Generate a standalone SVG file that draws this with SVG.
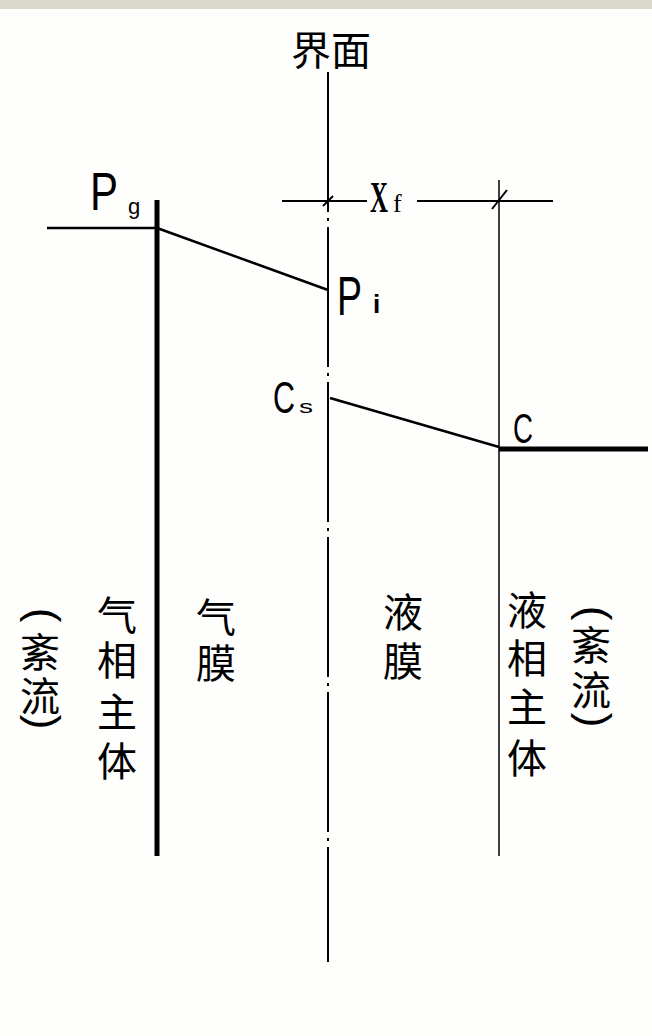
<svg xmlns="http://www.w3.org/2000/svg" width="652" height="1036" viewBox="0 0 652 1036">
<style>
.cjk{font-family:"Noto Sans CJK SC","Noto Sans CJK JP",sans-serif;font-size:40px;fill:#000;text-anchor:middle}
.par{font-family:"Liberation Sans",Arial,sans-serif;font-size:44px;fill:#000;text-anchor:middle}
.lat{font-family:"Liberation Sans",Arial,sans-serif;fill:#000}
.ln{stroke:#000;fill:none}
</style>
<rect x="0" y="0" width="652" height="1036" fill="#fefefc"/>
<rect x="0" y="0" width="652" height="9" fill="#d9d9c9"/>
<g id="connectors">
<line class="ln" x1="328" y1="72" x2="328" y2="962" stroke-width="2" stroke-dasharray="140 6 3 6"/>
<line class="ln" x1="157" y1="200" x2="157" y2="856" stroke-width="5"/>
<line class="ln" x1="499" y1="180" x2="499" y2="856" stroke-width="1.5"/>
<line class="ln" x1="47" y1="228" x2="157" y2="228" stroke-width="2.5"/>
<line class="ln" x1="157" y1="228" x2="328" y2="290" stroke-width="2.5"/>
<line class="ln" x1="330" y1="398" x2="499" y2="447" stroke-width="2.5"/>
<line class="ln" x1="499" y1="449" x2="648" y2="449" stroke-width="5"/>
<line class="ln" x1="282" y1="201" x2="367" y2="201" stroke-width="2"/>
<line class="ln" x1="417" y1="201" x2="553" y2="201" stroke-width="2"/>
<line class="ln" x1="323" y1="206" x2="333" y2="196" stroke-width="2"/>
<line class="ln" x1="492" y1="209" x2="507" y2="190" stroke-width="2"/>
</g>
<g id="title"><text class="cjk" x="331" y="65" font-size="38">界面</text></g>
<g id="Pg"><text class="lat" x="90" y="210" font-size="53" textLength="28" lengthAdjust="spacingAndGlyphs">P</text><text class="lat" x="128" y="214" font-size="22">g</text></g>
<g id="Pi"><text class="lat" x="337" y="315" font-size="56" textLength="25" lengthAdjust="spacingAndGlyphs">P</text><text class="lat" x="373" y="313" font-size="26" font-weight="bold">i</text></g>
<g id="Cs"><text class="lat" x="273" y="413" font-size="45" textLength="22" lengthAdjust="spacingAndGlyphs">C</text><text class="lat" x="299" y="413" font-size="18" textLength="14" lengthAdjust="spacingAndGlyphs">s</text></g>
<g id="C"><text class="lat" x="513" y="443" font-size="43" textLength="20" lengthAdjust="spacingAndGlyphs">C</text></g>
<g id="Xf"><text x="370" y="212" font-family="Liberation Serif,serif" font-size="44" font-weight="bold" textLength="18" lengthAdjust="spacingAndGlyphs">X</text><text x="393" y="212" font-family="Liberation Serif,serif" font-size="26">f</text></g>
<g id="left-turb">
<text class="par" transform="translate(29,615) rotate(90)">(</text>
<text class="cjk" x="40" y="667">紊</text>
<text class="cjk" x="40" y="711">流</text>
<text class="par" transform="translate(29,722) rotate(90)">)</text>
</g>
<g id="gas-bulk">
<text class="cjk" x="117" y="630">气</text>
<text class="cjk" x="117" y="675">相</text>
<text class="cjk" x="117" y="727">主</text>
<text class="cjk" x="117" y="776">体</text>
</g>
<g id="gas-film">
<text class="cjk" x="216" y="632">气</text>
<text class="cjk" x="216" y="678">膜</text>
</g>
<g id="liquid-film">
<text class="cjk" x="403" y="627">液</text>
<text class="cjk" x="403" y="676">膜</text>
</g>
<g id="liquid-bulk">
<text class="cjk" x="527" y="625">液</text>
<text class="cjk" x="527" y="673">相</text>
<text class="cjk" x="527" y="722">主</text>
<text class="cjk" x="527" y="773">体</text>
</g>
<g id="right-turb">
<text class="par" transform="translate(580,613) rotate(90)">(</text>
<text class="cjk" x="591" y="660">紊</text>
<text class="cjk" x="591" y="705">流</text>
<text class="par" transform="translate(580,720) rotate(90)">)</text>
</g>
</svg>
